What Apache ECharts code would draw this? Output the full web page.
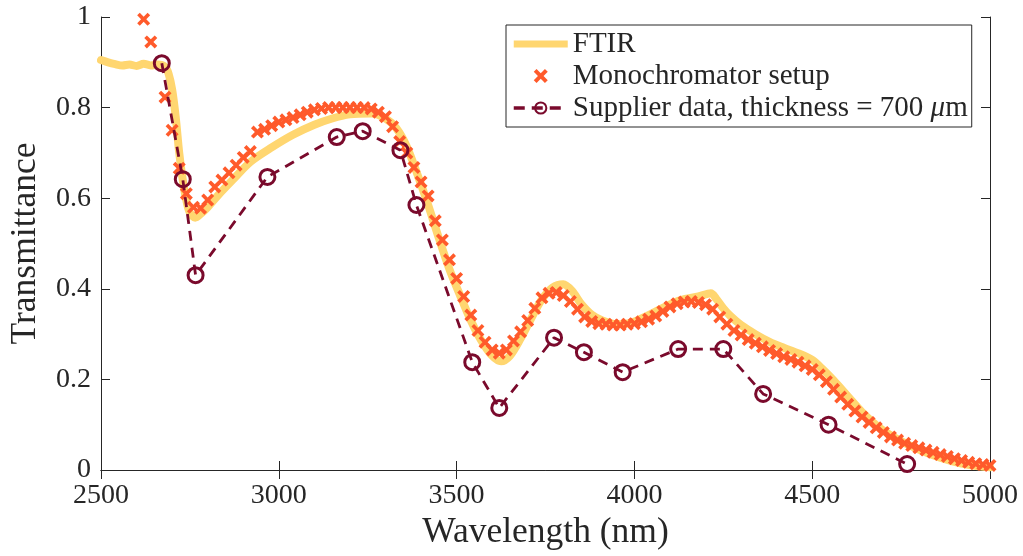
<!DOCTYPE html>
<html>
<head>
<meta charset="utf-8">
<script src="https://cdn.jsdelivr.net/npm/echarts@6/dist/echarts.min.js"></script>
<style>
html,body{margin:0;padding:0;background:#fff;}
#chart{width:1023px;height:556px;}
</style>
</head>
<body>
<div id="chart"></div>
<script>
// ---- data ----
const ftirX = [2500,2520,2540,2560,2580,2600,2620,2640,2660,2680,2690,2700,2710,2720,2730,2740,2750,2765,2780,2800,2830,2870,2920,2980,3040,3100,3150,3200,3260,3300,3330,3360,3390,3420,3450,3480,3510,3540,3570,3600,3625,3650,3680,3710,3740,3770,3800,3825,3850,3880,3910,3950,3990,4030,4080,4130,4180,4215,4230,4250,4270,4300,4340,4380,4420,4460,4500,4530,4560,4600,4640,4690,4740,4800,4860,4920,4970,5000];
const ftirY = [0.905,0.9,0.896,0.893,0.895,0.892,0.897,0.893,0.895,0.89,0.875,0.84,0.78,0.70,0.64,0.595,0.568,0.557,0.565,0.58,0.607,0.64,0.68,0.712,0.74,0.762,0.776,0.785,0.787,0.776,0.755,0.714,0.652,0.585,0.512,0.443,0.385,0.33,0.285,0.252,0.24,0.252,0.29,0.335,0.377,0.403,0.41,0.395,0.367,0.343,0.33,0.322,0.325,0.338,0.358,0.375,0.383,0.39,0.378,0.357,0.34,0.32,0.3,0.283,0.27,0.258,0.243,0.222,0.198,0.163,0.128,0.093,0.068,0.045,0.027,0.014,0.008,0.006];

const monoX = [2620,2640,2680,2700,2720,2740,2760,2780,2800,2820,2840,2860,2880,2900,2920,2940,2960,2980,3000,3020,3040,3060,3080,3100,3120,3140,3160,3180,3200,3220,3240,3260,3280,3300,3320,3340,3360,3380,3400,3420,3440,3460,3480,3500,3520,3540,3560,3580,3600,3620,3640,3660,3680,3700,3720,3740,3760,3780,3800,3820,3840,3860,3880,3900,3920,3940,3960,3980,4000,4020,4040,4060,4080,4100,4120,4140,4160,4180,4200,4220,4240,4260,4280,4300,4320,4340,4360,4380,4400,4420,4440,4460,4480,4500,4520,4540,4560,4580,4600,4620,4640,4660,4680,4700,4720,4740,4760,4780,4800,4820,4840,4860,4880,4900,4920,4940,4960,4980,5000];
const monoY = [0.995,0.945,0.823,0.75,0.666,0.61,0.58,0.578,0.596,0.625,0.64,0.656,0.673,0.69,0.703,0.746,0.752,0.76,0.768,0.773,0.778,0.784,0.79,0.795,0.798,0.8,0.8,0.8,0.8,0.8,0.8,0.797,0.79,0.78,0.758,0.725,0.7,0.668,0.636,0.605,0.55,0.508,0.464,0.423,0.383,0.342,0.308,0.282,0.265,0.258,0.265,0.285,0.305,0.33,0.357,0.38,0.39,0.392,0.385,0.372,0.355,0.338,0.328,0.323,0.322,0.32,0.32,0.322,0.323,0.327,0.333,0.34,0.35,0.36,0.367,0.371,0.372,0.37,0.365,0.355,0.338,0.322,0.308,0.298,0.288,0.28,0.272,0.264,0.257,0.25,0.244,0.238,0.23,0.222,0.21,0.195,0.178,0.161,0.145,0.13,0.117,0.105,0.093,0.083,0.073,0.066,0.059,0.054,0.049,0.044,0.039,0.034,0.03,0.025,0.021,0.017,0.014,0.012,0.01];

const supX = [2671,2730,2766,2968,3163,3236,3342,3387,3544,3620,3774,3858,3967,4123,4250,4362,4546,4767];
const supY = [0.898,0.642,0.43,0.647,0.735,0.748,0.706,0.585,0.238,0.137,0.292,0.26,0.216,0.267,0.267,0.168,0.1,0.013];

const xTicks = {min:2500, max:5000, interval:500};
const yTicks = {min:0, max:1, interval:0.2};
const names = ['FTIR','Monochromator setup','Supplier data, thickness = 700 μm'];

// ---- chart ----
const zip = (a,b)=>a.map((v,i)=>[v,b[i]]);
const FONT = 'Liberation Serif';
const AX = '#262626';
const C_FTIR = '#FFD670', C_MONO = '#FF5A2B', C_SUP = '#7A0A2C';
const crossPath = 'path://M20,0L50,30L80,0L100,20L70,50L100,80L80,100L50,70L20,100L0,80L30,50L0,20Z';

const baseAxis = {
  axisLine:{show:true,lineStyle:{color:AX,width:1}},
  axisTick:{show:true,inside:true,length:9,lineStyle:{color:AX,width:1}},
  splitLine:{show:false}
};

const chart = echarts.init(document.getElementById('chart'), null, {renderer:'canvas'});
chart.setOption({
  animation:false,
  backgroundColor:'#fff',
  grid:{left:97,right:33,top:17,bottom:86,containLabel:false},
  xAxis:[
    Object.assign({}, baseAxis, {type:'value',position:'bottom',min:xTicks.min,max:xTicks.max,interval:xTicks.interval,
      name:'Wavelength (nm)',nameLocation:'middle',nameGap:63,
      nameTextStyle:{fontFamily:FONT,fontSize:35.5,color:AX,verticalAlign:'middle'},
      axisLabel:{fontFamily:FONT,fontSize:28,color:AX,margin:12,formatter:v=>String(v)}}),
    Object.assign({}, baseAxis, {type:'value',position:'top',min:xTicks.min,max:xTicks.max,interval:xTicks.interval,
      axisLabel:{show:false}})
  ],
  yAxis:[
    Object.assign({}, baseAxis, {type:'value',position:'left',min:yTicks.min,max:yTicks.max,interval:yTicks.interval,
      name:'Transmittance',nameLocation:'middle',nameGap:75,
      nameTextStyle:{fontFamily:FONT,fontSize:35.5,color:AX,verticalAlign:'middle'},
      axisLabel:{fontFamily:FONT,fontSize:28,color:AX,margin:10,formatter:v=>String(+v.toFixed(1))}}),
    Object.assign({}, baseAxis, {type:'value',position:'right',min:yTicks.min,max:yTicks.max,interval:yTicks.interval,
      axisLabel:{show:false}})
  ],
  legend:{
    left:506, top:25, orient:'vertical',
    backgroundColor:'#fff', borderColor:AX, borderWidth:1,
    padding:[3,4,3,6], itemGap:0, itemWidth:54, itemHeight:14,
    textStyle:{fontFamily:FONT,fontSize:29,color:AX,lineHeight:32,
      rich:{i:{fontFamily:FONT,fontSize:29,fontStyle:'italic',color:AX}}},
    formatter:function(n){ return n.replace('μ','{i|μ}'); },
    data:[
      {name:names[0],icon:'path://M0,0H54V7H0Z',itemStyle:{color:C_FTIR}},
      {name:names[1]},
      {name:names[2],lineStyle:{width:3.5,type:[11,7]}}
    ]
  },
  series:[
    {name:names[0],type:'line',data:zip(ftirX,ftirY),symbol:'none',smooth:0.3,
      lineStyle:{color:C_FTIR,width:8,cap:'round',join:'round'},itemStyle:{color:C_FTIR},z:1},
    {name:names[1],type:'scatter',data:zip(monoX,monoY),symbol:crossPath,symbolSize:13,
      itemStyle:{color:C_MONO,opacity:1},z:2},
    {name:names[2],type:'line',data:zip(supX,supY),symbol:'circle',symbolSize:15,showSymbol:true,
      lineStyle:{color:C_SUP,width:2.8,type:[10,7]},
      itemStyle:{color:'rgba(0,0,0,0)',borderColor:C_SUP,borderWidth:3},z:3}
  ]
});
</script>
</body>
</html>
